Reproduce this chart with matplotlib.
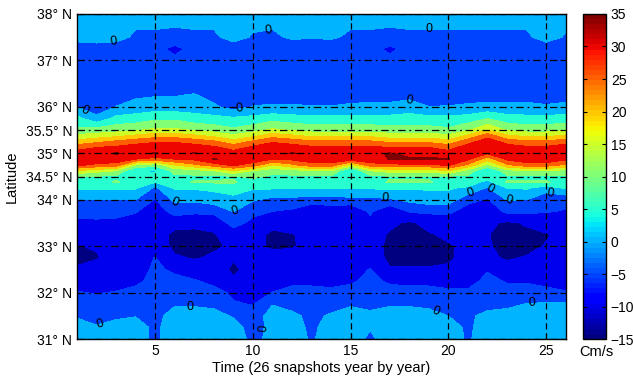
import numpy as np
import matplotlib
matplotlib.use("Agg")
import matplotlib.pyplot as plt
from matplotlib.colors import Normalize
from matplotlib.cm import ScalarMappable

plt.rcParams['font.family'] = ['Liberation Sans', 'DejaVu Sans']

# 26 yearly snapshots on x, latitude rows on y, current speed in cm/s
snapshots = list(range(1, 27))
latitudes = [38.0, 37.5, 37.25, 37.0, 36.5, 36.25, 36.0, 35.75, 35.5, 35.375,
             35.25, 35.125, 35.0, 34.875, 34.75, 34.625, 34.5, 34.375, 34.25,
             34.0, 33.75, 33.5, 33.25, 33.0, 32.75, 32.5, 32.25, 32.0, 31.75,
             31.5, 31.25, 31.0]

v38000 = [2, 2, 2, 2, 2, 2, 2, 2, 2, 2, 2, 2, 2, 2, 2, 2, 2, 2, 2, 2, 2, 2, 2, 2, 2, 2]
v37500 = [2, 2.5, 2, -1, -1, -1.5, -1, -1, 2, -0.5, -1, 0.75, 0.3, 0.75, -1, -1, -1.5, -1, -1, -1, -1, -1, -1, -1, 2.2, -0.5]
v37250 = [-3, -2.5, -3, -3.5, -3.5, -6.4, -3.5, -3.5, -3, -3.5, -3.5, -3, -3, -3, -3.5, -3.5, -6, -3.5, -3.5, -3.5, -3.5, -3.5, -3.5, -3.5, -3, -3.5]
v37000 = [-3.5, -3.5, -3.5, -3.5, -3.5, -3.8, -3.5, -3.5, -3.5, -3.5, -3.5, -3.5, -3.5, -3.5, -3.5, -3.5, -3.8, -3.5, -3.5, -3.5, -3.5, -3.5, -3.5, -3.5, -3.5, -3.5]
v36500 = [-3.5, -3.5, -3.5, -3.5, -3.5, -3.5, -3.5, -3.5, -3.5, -3.5, -3.5, -3.5, -3.5, -3.5, -3.5, -3.5, -3.5, -3.5, -3.5, -3.5, -3.5, -3.5, -3.5, -3.5, -3.5, -3.5]
v36250 = [-2, -3, -2, -1, -0.3, -0.3, 0.5, -2, -3, -2, -2, -2, -2, -2, -2, -2, -2, -2, -2, -2, -2, -2, -2, -2, -2, -2]
v36000 = [0.1, -3.5, 0.1, 2.1, 2.2, 2.2, 2.5, 0.9, -2, 0.2, 0.6, 0.6, 0.2, 0.2, 0.8, 1.3, 1.3, 3, 0.1, 0.2, 0.8, 1.3, 1.3, 1.3, 0.5, 1.3]
v35750 = [6.5, 1.5, 6.5, 7, 9, 9, 7, 6.5, 5.8, 6.5, 8, 7, 6.5, 6.5, 6.5, 6.5, 6.5, 6.5, 6.5, 6.5, 7, 10, 7, 6.5, 6.5, 7]
v35500 = [11, 12, 13, 14.5, 16, 16, 14.5, 13, 11, 13, 16, 14.5, 13, 13, 13, 13, 12, 12, 12, 11, 14.5, 20, 14.5, 13, 13, 14.5]
v35375 = [16, 17.5, 19, 21, 23, 23, 21, 19, 16, 19, 23, 21, 19, 19, 19, 19, 17.5, 17.5, 17.5, 16, 21, 28, 21, 19, 19, 21]
v35250 = [22, 24, 26, 28, 29.5, 29.5, 28, 26, 22, 26, 29.5, 28, 26, 26, 26, 26, 24, 24, 24, 22, 28, 33, 28, 26, 26, 28]
v35125 = [28, 30, 31, 32.5, 33, 33, 32.5, 31, 28, 31, 33, 32.5, 31, 31, 31, 31, 30, 30, 30, 28, 32.5, 34, 32.5, 31, 31, 32.5]
v35000 = [32, 33.5, 35.4, 34, 35.3, 33.5, 35.3, 34, 32, 35.2, 33.5, 35.3, 34, 34, 34, 34, 35.4, 33.5, 33.5, 32, 34, 30.5, 35.3, 34, 34, 34]
v34875 = [34, 33.5, 33, 30, 28, 30, 31, 35.2, 34, 33, 30, 31, 33, 33, 33, 33, 35.2, 35.6, 35.6, 35.2, 31, 22, 31, 33, 33, 31]
v34750 = [31, 29, 28, 15, 12, 20, 24, 28, 31, 28, 20, 24, 28, 28, 18, 28, 29, 29, 29, 31, 24, 14, 24, 28, 28, 24]
v34625 = [20, 17, 15, 4.5, 4, 12, 13, 15, 20, 15, 12, 13, 15, 15, 4.5, 15, 17, 17, 17, 20, 13, 4.5, 13, 15, 15, 13]
v34500 = [9.5, 9.5, 9, 8, 8, 9, 9, 9, 9.5, 11, 9, 9, 9, 9, 9, 9, 9.5, 9.5, 9.5, 9.5, 9, 8, 9, 9, 9, 9]
v34375 = [8, 8, 10.5, 8, 5, 8, 10.5, 10.5, 10.5, 8, 8, 8, 8, 8, 8, 8, 10.5, 10.5, 10.5, 8, 8, 3, 10.5, 10.5, 10.5, 8]
v34250 = [5.5, 5.5, 5.5, 5.5, -1, 5.5, 5.5, 6, 8, 5.5, 5.5, 5.5, 5.5, 5.5, 5.5, 5.5, 5.5, 5.5, 5.5, 5.5, 4, -0.5, 5, 5.5, 2, 5.5]
v34000 = [0, 0, 0, 0, -5.3, 1, 1, 2.7, 3, 0.5, -1.4, -1.4, -2.6, -2.6, -1.4, -1.4, -0.7, 1.2, 2.7, 2.7, -3.7, -5.5, 0.3, 0, -3, -3.7]
v33750 = [-4, -4, -4, -4.6, -8, -3, -4, -4, 0.2, -4, -5, -5.9, -8.6, -7.6, -9.5, -4.2, -9.5, -4.6, -4, -4, -7, -8, -4, -4, -4.7, -5.3]
v33500 = [-5.7, -5.5, -5.7, -7, -9, -8.5, -8.5, -8, -3.5, -6, -8.5, -8, -9, -9, -9.5, -6.5, -9, -10.8, -8.5, -8, -8.5, -9, -10.8, -9.5, -7.5, -8]
v33250 = [-9, -8.5, -8.5, -8.5, -8, -11, -11.5, -10.5, -7, -8, -11, -10.2, -9, -9, -9, -8, -10.5, -11.5, -10.5, -9, -9, -9.8, -11.5, -11, -10.3, -9]
v33000 = [-10.1, -9.8, -9, -8.5, -7.5, -11, -11, -10.5, -9.5, -9, -10.5, -10.3, -9, -8.5, -8.5, -8, -11, -11.5, -11, -10.5, -9, -9.5, -11.5, -10.8, -9.8, -9]
v32750 = [-11, -10.2, -9, -8, -4.8, -9.5, -10.3, -9.5, -9.8, -9, -9, -8.5, -8.5, -8.5, -8, -7.5, -11, -11, -11, -10.5, -9, -9.5, -10.3, -9.8, -9, -8.5]
v32500 = [-9.5, -9, -8.5, -7.5, -4, -6, -8, -8.5, -10.5, -9, -8.5, -8, -8, -8, -7, -4.8, -9.7, -9.7, -9.7, -9.5, -8.5, -5.5, -9, -8.5, -8, -8]
v32250 = [-7, -7.5, -7, -6.5, -3, -3.5, -4.5, -6.5, -9.6, -8.5, -7, -6.5, -6.5, -7, -5.8, -3.5, -5.8, -6.5, -6.5, -7, -7, -3.5, -5.5, -5.5, -7, -8]
v32000 = [-4.7, -5.3, -4.7, -3, -2.5, -2.5, -2.5, -3, -6, -7, -4.9, -3, -3, -3.5, -3, -2.5, -3, -3, -3, -4, -4, -2.5, -3, -3, -3, -4.5]
v31750 = [-2.5, -3, -2.5, -2, -2, -0.5, -0.5, -1.2, -4.5, -5.2, -0.2, -2, -3, -2.5, -0.5, -1.8, -0.5, -0.5, -1.2, -1.5, -3, -1.8, -1.2, 0.2, 0.5, 1]
v31500 = [-0.5, -2, -0.8, -0.2, -1.5, 2, 2, 1.8, -0.5, -3, 2.3, 1.3, -1.5, 0.8, 2, 1.5, 2, 2, 1.8, 0, -1, 1.5, 2, 2.5, 2.5, 2.5]
v31250 = [2, 0.5, 1.7, 2, -1, 2.5, 2.5, 2.5, 2, -2, 1.5, 2, -1, 2, 2.5, 0.3, 2.5, 2.5, 2.5, 2, -0.8, 2, 2.5, 2.5, 2.5, 2.5]
v31000 = [2, 1.5, 2, 2, -1, 2.5, 2.5, 2.5, 2, -1, 1, 2, -0.5, 2, 2.5, -1, 2.5, 2.5, 2.5, 2, -0.5, 2, 2.5, 2.5, 2.5, 2.5]

speed = np.array([v38000, v37500, v37250, v37000, v36500, v36250, v36000,
                  v35750, v35500, v35375, v35250, v35125, v35000, v34875,
                  v34750, v34625, v34500, v34375, v34250, v34000, v33750,
                  v33500, v33250, v33000, v32750, v32500, v32250, v32000,
                  v31750, v31500, v31250, v31000])

levels = [-15, -10, -5, 0, 5, 10, 15, 20, 25, 30, 35, 40]
cbar_ticks = [-15, -10, -5, 0, 5, 10, 15, 20, 25, 30, 35]
xtick_vals = [5, 10, 15, 20, 25]
ytick_vals = [31, 32, 33, 34, 34.5, 35, 35.5, 36, 37, 38]
ytick_labels = ["31° N", "32° N", "33° N", "34° N", "34.5° N", "35° N",
                "35.5° N", "36° N", "37° N", "38° N"]

# where the "0" contour labels sit
zero_label_spots = [(2.9, 37.35), (10.8, 37.62), (19.0, 37.62), (1.4, 35.9),
                    (9.3, 35.93), (18.0, 36.12), (6.0, 33.92), (9.1, 33.74),
                    (16.75, 34.03), (21.2, 34.1), (22.2, 34.28), (23.1, 33.95),
                    (25.2, 34.15), (2.2, 31.3), (6.8, 31.67), (10.9, 31.21),
                    (19.3, 31.51), (24.3, 31.7)]

fig = plt.figure(figsize=(6.33, 3.78), dpi=100)
ax = fig.add_axes([0.1216, 0.103, 0.772, 0.860])
cax = fig.add_axes([0.921, 0.103, 0.0363, 0.860])

jet = plt.get_cmap('jet', 64)
norm = Normalize(-15, 35)
# matlab style: each band takes the colour of its lower level
fill_colors = [jet(norm(lv)) for lv in levels[:-1]]

X, Y = np.meshgrid(snapshots, latitudes)
ax.contourf(X, Y, speed, levels=levels, colors=fill_colors)

cs0 = ax.contour(X, Y, speed, levels=[0], colors='k', linewidths=0)
ax.clabel(cs0, fmt={0: '0'}, manual=zero_label_spots, fontsize=9,
          inline=False, colors='k')

ax.set_xlim(1, 26)
ax.set_ylim(31, 38)
ax.set_xticks(xtick_vals)
ax.set_yticks(ytick_vals)
ax.set_yticklabels(ytick_labels)
ax.tick_params(direction='in', top=True, right=True, length=4, labelsize=10)
ax.xaxis.grid(True, color='k', linestyle=(0, (5, 3)), linewidth=0.9)
ax.yaxis.grid(True, color='k', linestyle=(0, (6, 3, 1.5, 3)), linewidth=0.9)
for sp in ax.spines.values():
    sp.set_linewidth(1.0)

ax.set_xlabel('Time (26 snapshots year by year)', fontsize=10.5, labelpad=2)
ax.set_ylabel('Latitude', fontsize=10.5, labelpad=5)

cb = fig.colorbar(ScalarMappable(norm=norm, cmap=jet), cax=cax, ticks=cbar_ticks)
cax.tick_params(direction='in', left=True, right=True, length=3, labelsize=10)
cb.outline.set_linewidth(1.0)
fig.text(0.942, 0.069, 'Cm/s', ha='center', va='center', fontsize=10.5)

fig.savefig('out.png', dpi=100)
